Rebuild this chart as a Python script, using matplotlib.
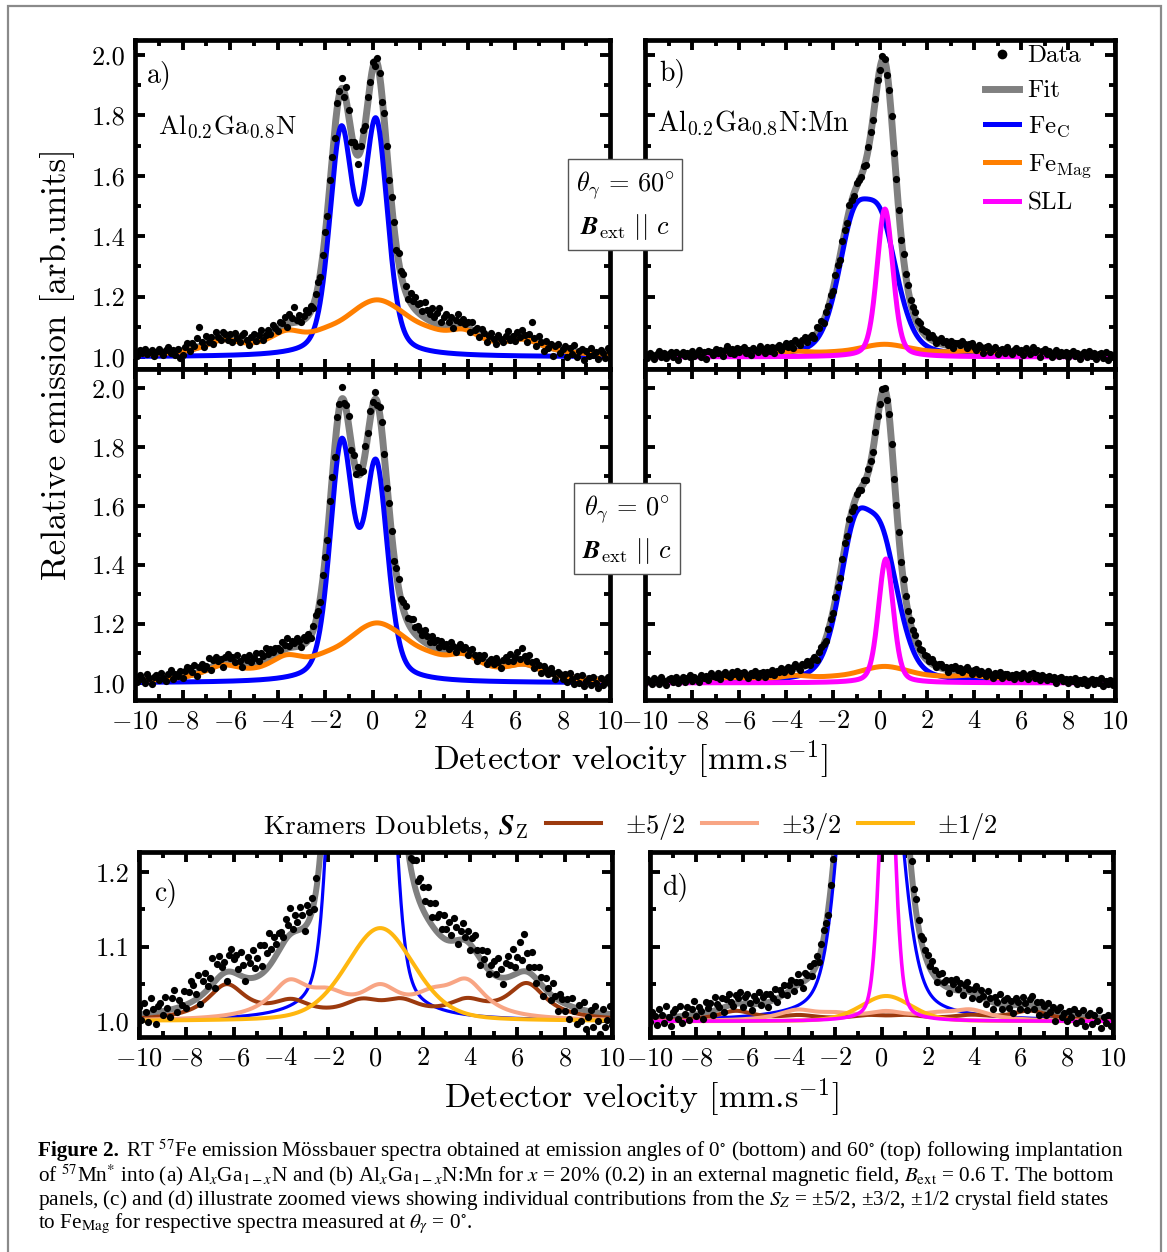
import numpy as np
import matplotlib
matplotlib.use('Agg')
import matplotlib.pyplot as plt
from matplotlib.ticker import MultipleLocator, FormatStrFormatter
from matplotlib.lines import Line2D
from matplotlib.patches import Rectangle

plt.rcParams['font.family'] = ['cmr10']
plt.rcParams['mathtext.fontset'] = 'cm'
plt.rcParams['axes.formatter.use_mathtext'] = True
plt.rcParams['axes.unicode_minus'] = True

W, H = 1167, 1252

# ---------------- data ----------------
V_MIN, V_MAX = -10.0, 10.0   # velocity range of the spectrometer channels

# component lines: (centre [mm/s], amplitude, FWHM [mm/s], Lorentzian fraction)
fec_a60 = [(-1.32, 0.726, 1.15, 0.34), (0.15, 0.754, 1.15, 0.34)]
fec_a0 = [(-1.30, 0.790, 1.15, 0.34), (0.15, 0.715, 1.15, 0.34)]
fec_b60 = [(-1.15, 0.377, 1.6, 0.34), (0.05, 0.393, 1.7, 0.34)]
fec_b0 = [(-1.10, 0.444, 1.6, 0.34), (0.10, 0.420, 1.7, 0.34)]
sll_b60 = [(0.21, 0.49, 0.80, 0.3)]
sll_b0 = [(0.25, 0.42, 0.75, 0.3)]
fit_sll_b60 = [(0.22, 0.49, 1.0, 0.3)]
fit_sll_b0 = [(0.25, 0.44, 0.9, 0.3)]
kd52_a0 = [(-6.3, 0.046, 2.0, 1.0), (-3.55, 0.021, 2.0, 1.0), (-0.6, 0.020, 2.0, 1.0),
           (1.1, 0.020, 2.0, 1.0), (3.85, 0.021, 2.0, 1.0), (6.4, 0.047, 2.0, 1.0)]
kd32_a0 = [(-3.65, 0.046, 2.0, 1.0), (-2.0, 0.024, 2.0, 1.0), (0.2, 0.036, 2.0, 1.0),
           (2.4, 0.022, 2.0, 1.0), (3.85, 0.046, 2.0, 1.0)]
kd12_a0 = [(0.2, 0.125, 3.4, 0.3)]
kd52_b0 = [(-6.3, 0.013, 2.0, 1.0), (-3.55, 0.006, 2.0, 1.0), (-0.6, 0.0056, 2.0, 1.0),
           (1.1, 0.0056, 2.0, 1.0), (3.85, 0.006, 2.0, 1.0), (6.4, 0.0132, 2.0, 1.0)]
kd32_b0 = [(-3.65, 0.013, 2.0, 1.0), (-2.0, 0.0067, 2.0, 1.0), (0.2, 0.010, 2.0, 1.0),
           (2.4, 0.0062, 2.0, 1.0), (3.85, 0.013, 2.0, 1.0)]
kd12_b0 = [(0.2, 0.034, 2.6, 0.3)]
femag_ratio_60_a = 0.93
femag_ratio_60_b = 0.75

# data scatter about the fit, in units of 0.001
res_a60 = [8, -5, 12, 3, 15, -2, 6, 10, -8, 4, 14, 2, -6, 9, 18, -3, 5, -12, 7, -25,
           -15, 10, 22, -5, 18, 6, 30, 65, 12, -8, 25, 4, 15, -10, 28, 8, -4, 20, 12, -6,
           14, -12, 22, 6, -8, 18, 25, 2, -15, 10, 20, -5, 12, 28, -10, 5, 15, -2, 22, 8,
           -6, 18, 10, 25, -12, 30, 15, 50, 8, 22, -5, 14, 28, 10, 18, -8, 12, 20, -10, 6,
           15, -10, 20, 5, -18, 25, 12, 35, -20, 48, 22, -35, 10, 25, -28, 15, 30, -12, 20, 8,
           25, -15, 18, 8, -20, 30, 12, -8, 22, 15, -12, 28, 10, 35, 20, -5, 30, 18, 42, 25,
           38, 15, 50, 30, 22, 45, 18, 35, 55, 10, 28, 40, 15, 32, -5, 20, 38, 12, 25, 8,
           18, -10, 25, 5, 15, -8, 20, 12, -15, 8, 22, 2, -12, 18, 6, -5, 15, 28, 0, 10,
           -8, 20, 5, 25, 12, -10, 18, 60, 8, -15, 22, 5, -20, 15, -5, 12, -25, 8, 18, -12,
           5, 15, -20, 10, -8, 22, -15, 4, 12, -25, 8, -10, 18, -5, 6, -18, 12, 2, -12, 20, 8]
res_a0 = [10, -8, 15, 2, -12, 20, 5, -15, 8, 12, -5, 18, 3, -10, 15, 25, -6, 10, 2, 20,
          -5, 15, 28, 22, 8, 30, -10, 18, 25, 5, 12, 35, -8, 20, 28, 10, 15, -12, 22, 30,
          18, 25, 8, 32, 15, -5, 28, 20, 38, 12, 25, 40, 10, 35, 22, 45, 18, 30, 15, 25,
          20, 8, 28, 15, 35, 5, 22, 12, 30, 18, -5, 25, 10, 20, -8, 15, 28, 5, -12, 20,
          10, -15, 25, 8, -20, 30, 15, 40, -10, 20, 35, -25, 12, -15, 28, 5, -18, 22, 10, 30,
          15, 25, -12, 20, 35, 8, -15, 22, 10, -20, 18, 30, 5, 25, 38, 15, 28, 40, 22, 35,
          30, 18, 42, 25, 12, 35, 20, 28, 10, 32, 15, 25, 8, 30, 18, -5, 12, 22, 5, 15,
          -8, 12, 20, 5, -10, 15, 8, 22, -5, 10, 18, 2, 25, 12, -8, 20, 28, 15, 35, 10,
          22, 40, 15, 50, 25, 8, 30, 12, -5, 20, 10, -12, 15, 5, -8, 18, 2, -15, 10, 5,
          -10, 8, -18, 12, -5, -22, 5, -15, 10, -25, -8, 2, -20, 8, -12, -28, 5, -18, -8, 10, -15]
res_b60 = [5, -8, 10, 2, -12, 6, 15, -4, 8, -10, 3, 12, -6, 9, -15, 4, 10, -3, 7, -8,
           12, -5, 2, 15, -10, 6, -18, 8, 3, -6, 14, -2, 9, -12, 5, 18, -4, 7, -9, 11,
           -3, 8, 14, -7, 4, -11, 10, 2, -5, 16, 6, -8, 12, -2, 9, -14, 5, 11, -6, 3,
           13, -4, 7, -10, 15, 2, -6, 10, 18, -3, 8, 12, -5, 20, 6, 15, -8, 10, 4, 12,
           -6, 15, 8, -12, 10, 5, -8, 14, 2, -10, 12, 6, -5, 10, -15, 8, 12, -4, 6, 10,
           -8, 12, 5, -10, 8, 15, -6, 10, 4, -12, 14, 8, 18, 6, 12, 20, 10, 15, 8, 12,
           15, 5, 18, 10, -4, 12, 20, 8, 14, 2, 16, -6, 10, 12, 4, 18, 8, -5, 10, 14,
           2, -8, 10, 5, -12, 8, 14, -4, 6, 12, -10, 4, 9, -6, 15, 3, -9, 7, 11, -3,
           6, -12, 10, 3, -7, 14, -2, 8, -15, 5, 11, -4, 9, -10, 4, 13, -6, 8, -3, 10,
           -8, 5, 12, -5, 8, -14, 3, 10, -6, 15, -2, 7, -11, 4, 9, -8, 12, -15, 6, -4, 2]
res_b0 = [-5, 8, 2, -10, 12, 4, -8, 15, 0, -12, 6, 10, -4, 14, -9, 3, 11, -6, 8, 18,
          -2, 10, 4, -8, 15, 6, 12, -5, 18, 8, 2, 14, -6, 10, 16, 4, -3, 12, 7, 15,
          -4, 9, 13, 2, -8, 11, 5, 16, -2, 8, 12, -6, 10, 4, 14, -5, 9, 2, 13, -3,
          8, 12, -4, 6, 15, 2, -8, 10, 5, 14, -3, 9, 12, -6, 7, 11, 3, -9, 6, 10,
          -5, 12, 4, -10, 8, 15, -6, 10, 3, -12, 9, 5, -8, 12, -4, 10, 6, -9, 8, 4,
          -6, 10, 5, -8, 12, 3, -10, 8, 14, -4, 9, 12, 6, 15, 8, 18, 10, 5, 14, 9,
          12, 4, 16, 8, -3, 11, 14, 5, 9, -6, 12, 7, 15, 2, 10, -5, 8, 13, 4, -8,
          6, 11, -4, 9, 3, -7, 12, 5, -9, 8, 2, 14, -5, 7, 10, -3, 6, -10, 9, 4,
          -6, 10, 2, -8, 7, 12, -4, 5, -11, 8, 3, -7, 10, -2, 6, -12, 4, 9, -5, 2,
          -8, 5, -3, 9, -10, 4, -6, 8, -12, 2, 6, -9, 3, -5, 10, -14, 1, -7, 4, -10, 2]

x_ticks_major, x_ticks_minor = 2, 1

# ---------------- model helpers ----------------
def profile(v, lines, scale=1.0):
    out = np.zeros_like(v)
    for c, a, w, eta in lines:
        sig = w / 2.3548
        gam = w / 2.0
        d = v - c
        out += a * ((1 - eta) * np.exp(-0.5 * (d / sig) ** 2) + eta / (1 + (d / gam) ** 2))
    return out * scale

vf = np.linspace(V_MIN, V_MAX, 2001)

femag_a0_lines = kd52_a0 + kd32_a0 + kd12_a0
femag_b0_lines = kd52_b0 + kd32_b0 + kd12_b0

def fit_a60(v):
    return 1 + profile(v, fec_a60) + profile(v, femag_a0_lines, femag_ratio_60_a)

def fit_a0(v):
    return 1 + profile(v, fec_a0) + profile(v, femag_a0_lines)

def fit_b60(v):
    return 1 + profile(v, fec_b60) + profile(v, femag_b0_lines, femag_ratio_60_b) + profile(v, fit_sll_b60)

def fit_b0(v):
    return 1 + profile(v, fec_b0) + profile(v, femag_b0_lines) + profile(v, fit_sll_b0)

def data_xy(res, fitfun):
    vel = np.linspace(V_MIN, V_MAX, len(res))
    return vel, fitfun(vel) + np.asarray(res) / 1000.0

# ---------------- style ----------------
C_FIT = '#808080'
C_FEC = '#0000ff'
C_MAG = '#ff7f00'
C_SLL = '#ff00ff'
C_52 = '#9c3a0e'
C_32 = '#f8a584'
C_12 = '#ffb70f'

fig = plt.figure(figsize=(W / 100, H / 100), dpi=100)
renderer = fig.canvas.get_renderer()

def fax(x0, y0, x1, y1):
    return fig.add_axes([x0 / W, 1 - y1 / H, (x1 - x0) / W, (y1 - y0) / H])

ax_a60 = fax(135, 40, 610, 369)
ax_a0 = fax(135, 369, 610, 700)
ax_b60 = fax(645, 40, 1115, 369)
ax_b0 = fax(645, 369, 1115, 700)
ax_c = fax(139, 852, 612, 1037)
ax_d = fax(650, 852, 1113, 1037)

for ax in [ax_a60, ax_a0, ax_b60, ax_b0, ax_c, ax_d]:
    for s in ax.spines.values():
        s.set_linewidth(3.4)
        s.set_zorder(10)
    ax.set_xlim(V_MIN, V_MAX)
    ax.xaxis.set_major_locator(MultipleLocator(x_ticks_major))
    ax.xaxis.set_minor_locator(MultipleLocator(x_ticks_minor))
    ax.tick_params(which='both', direction='in', top=True, right=True, width=2.8,
                   labelsize=19, pad=7)
    ax.tick_params(which='major', length=7.5)
    ax.tick_params(which='minor', length=4)

for ax in [ax_a60, ax_b60]:
    ax.set_ylim(0.96, 2.05)
for ax in [ax_a0, ax_b0]:
    ax.set_ylim(0.942, 2.064)
for ax in [ax_a60, ax_a0, ax_b60, ax_b0]:
    ax.yaxis.set_major_locator(MultipleLocator(0.2))
    ax.yaxis.set_minor_locator(MultipleLocator(0.1))
    ax.yaxis.set_major_formatter(FormatStrFormatter('%.1f'))
for ax in [ax_c, ax_d]:
    ax.set_ylim(0.979, 1.227)
    ax.yaxis.set_major_locator(MultipleLocator(0.1))
    ax.yaxis.set_minor_locator(MultipleLocator(0.05))
    ax.yaxis.set_major_formatter(FormatStrFormatter('%.1f'))

ax_a60.tick_params(labelbottom=False)
ax_b60.tick_params(labelbottom=False, labelleft=False)
ax_b0.tick_params(labelleft=False)
ax_d.tick_params(labelleft=False)

LW_FIT, LW_C = 5.0, 3.6
MS = 5.2

# panel a top (60 deg)
ax = ax_a60
ax.plot(vf, fit_a60(vf), color=C_FIT, lw=LW_FIT, zorder=2)
ax.plot(vf, 1 + profile(vf, fec_a60), color=C_FEC, lw=LW_C, zorder=3)
ax.plot(vf, 1 + profile(vf, femag_a0_lines, femag_ratio_60_a), color=C_MAG, lw=LW_C, zorder=3.1)
x, y = data_xy(res_a60, fit_a60)
ax.plot(x, y, 'o', color='black', ms=MS, mew=0, zorder=5)

# panel a bottom (0 deg)
ax = ax_a0
ax.plot(vf, fit_a0(vf), color=C_FIT, lw=LW_FIT, zorder=2)
ax.plot(vf, 1 + profile(vf, fec_a0), color=C_FEC, lw=LW_C, zorder=3)
ax.plot(vf, 1 + profile(vf, femag_a0_lines), color=C_MAG, lw=LW_C, zorder=3.1)
x, y = data_xy(res_a0, fit_a0)
ax.plot(x, y, 'o', color='black', ms=MS, mew=0, zorder=5)

# panel b top (60 deg)
ax = ax_b60
ax.plot(vf, fit_b60(vf), color=C_FIT, lw=LW_FIT, zorder=2)
ax.plot(vf, 1 + profile(vf, fec_b60), color=C_FEC, lw=LW_C, zorder=3)
ax.plot(vf, 1 + profile(vf, femag_b0_lines, femag_ratio_60_b), color=C_MAG, lw=LW_C, zorder=3.1)
ax.plot(vf, 1 + profile(vf, sll_b60), color=C_SLL, lw=LW_C, zorder=3.2)
x, y = data_xy(res_b60, fit_b60)
ax.plot(x, y, 'o', color='black', ms=MS, mew=0, zorder=5)
ax.legend([Line2D([], [], marker='o', ls='none', color='black', ms=7, mew=0),
           Line2D([], [], color=C_FIT, lw=LW_FIT),
           Line2D([], [], color=C_FEC, lw=LW_C),
           Line2D([], [], color=C_MAG, lw=LW_C),
           Line2D([], [], color=C_SLL, lw=LW_C)],
          ['Data', 'Fit', r'Fe$_{\mathrm{C}}$', r'Fe$_{\mathrm{Mag}}$', 'SLL'],
          loc='upper right', bbox_to_anchor=(0.955, 0.993), frameon=False, fontsize=18,
          handlelength=1.35, handletextpad=0.35, labelspacing=0.5, borderpad=0.1,
          borderaxespad=0)

# panel b bottom (0 deg)
ax = ax_b0
ax.plot(vf, fit_b0(vf), color=C_FIT, lw=LW_FIT, zorder=2)
ax.plot(vf, 1 + profile(vf, fec_b0), color=C_FEC, lw=LW_C, zorder=3)
ax.plot(vf, 1 + profile(vf, femag_b0_lines), color=C_MAG, lw=LW_C, zorder=3.1)
ax.plot(vf, 1 + profile(vf, sll_b0), color=C_SLL, lw=LW_C, zorder=3.2)
x, y = data_xy(res_b0, fit_b0)
ax.plot(x, y, 'o', color='black', ms=MS, mew=0, zorder=5)

# panel c (zoom of a, 0 deg)
ax = ax_c
ax.plot(vf, fit_a0(vf), color=C_FIT, lw=4.3, zorder=2)
ax.plot(vf, 1 + profile(vf, fec_a0), color=C_FEC, lw=2.3, zorder=3)
ax.plot(vf, 1 + profile(vf, kd52_a0), color=C_52, lw=2.9, zorder=3.3)
ax.plot(vf, 1 + profile(vf, kd32_a0), color=C_32, lw=2.9, zorder=3.4)
ax.plot(vf, 1 + profile(vf, kd12_a0), color=C_12, lw=2.9, zorder=3.5)
x, y = data_xy(res_a0, fit_a0)
ax.plot(x, y, 'o', color='black', ms=MS, mew=0, zorder=5)

# panel d (zoom of b, 0 deg)
ax = ax_d
ax.plot(vf, fit_b0(vf), color=C_FIT, lw=4.3, zorder=2)
ax.plot(vf, 1 + profile(vf, fec_b0), color=C_FEC, lw=2.3, zorder=3)
ax.plot(vf, 1 + profile(vf, kd52_b0), color=C_52, lw=2.9, zorder=3.3)
ax.plot(vf, 1 + profile(vf, kd32_b0), color=C_32, lw=2.9, zorder=3.4)
ax.plot(vf, 1 + profile(vf, kd12_b0), color=C_12, lw=2.9, zorder=3.5)
ax.plot(vf, 1 + profile(vf, sll_b0), color=C_SLL, lw=2.6, zorder=3.6)
x, y = data_xy(res_b0, fit_b0)
ax.plot(x, y, 'o', color='black', ms=MS, mew=0, zorder=5)

# ---------------- texts ----------------
def fx(px):
    return px / W

def fy(py):
    return 1 - py / H

def fit_len(t, target, vertical=False):
    bb = t.get_window_extent(renderer)
    cur = bb.height if vertical else bb.width
    t.set_fontsize(t.get_fontsize() * target / cur)

def text_with_fallback(x, y, s, s_fallback, **kw):
    t = fig.text(x, y, s, **kw)
    try:
        t.get_window_extent(renderer)
    except Exception:
        t.set_text(s_fallback)
    return t

fig.text(fx(147), fy(75), 'a)', fontsize=20, va='center')
fig.text(fx(659), fy(73), 'b)', fontsize=20, va='center')
fig.text(fx(154), fy(893), 'c)', fontsize=20, va='center')
fig.text(fx(662), fy(888), 'd)', fontsize=20, va='center')

t = fig.text(fx(158), fy(133), r'Al$_{0.2}$Ga$_{0.8}$N', fontsize=21, va='baseline')
fit_len(t, 139)
t = fig.text(fx(657), fy(131), r'Al$_{0.2}$Ga$_{0.8}$N:Mn', fontsize=21, va='baseline')
fit_len(t, 193)

box = dict(boxstyle='square,pad=0.3', fc='white', ec='#555555', lw=1.0)
b_it = '$\\mathbfit{B}_{\\mathrm{ext}}\\ ||\\ c$'
b_bf = '$\\mathbf{B}_{\\mathrm{ext}}\\ ||\\ c$'
text_with_fallback(fx(625), fy(206), '$\\theta_{\\gamma}\\,=\\,60^{\\circ}$\n' + b_it,
                   '$\\theta_{\\gamma}\\,=\\,60^{\\circ}$\n' + b_bf,
                   fontsize=19, ha='center', va='center', linespacing=1.5, bbox=box, zorder=20)
text_with_fallback(fx(627), fy(530), '$\\theta_{\\gamma}\\,=\\,0^{\\circ}$\n' + b_it,
                   '$\\theta_{\\gamma}\\,=\\,0^{\\circ}$\n' + b_bf,
                   fontsize=19, ha='center', va='center', linespacing=1.5, bbox=box, zorder=20)

t = fig.text(fx(58), fy(364), 'Relative emission [arb.units]', rotation=90,
             fontsize=22, ha='center', va='center')
fit_len(t, 432, vertical=True)
t = fig.text(fx(630), fy(760), r'Detector velocity [mm.s$^{\mathrm{-1}}$]',
             fontsize=22, ha='center', va='center')
fit_len(t, 395)
t = fig.text(fx(641), fy(1098), r'Detector velocity [mm.s$^{\mathrm{-1}}$]',
             fontsize=22, ha='center', va='center')
fit_len(t, 395)

t = text_with_fallback(fx(528), fy(827), r'Kramers Doublets, $\mathbfit{S}_{\mathrm{Z}}$',
                       r'Kramers Doublets, $\mathbf{S}_{\mathrm{Z}}$',
                       fontsize=19, ha='right', va='center')
fit_len(t, 265)
fig.legend([Line2D([], [], color=C_52, lw=2.9), Line2D([], [], color=C_32, lw=2.9),
            Line2D([], [], color=C_12, lw=2.9)],
           [r'$\pm5/2$', r'$\pm3/2$', r'$\pm1/2$'], ncol=3, loc='center left',
           bbox_to_anchor=(fx(546), fy(826)), frameon=False, fontsize=19,
           handlelength=2.1, handletextpad=0.9, columnspacing=0.6, borderpad=0,
           borderaxespad=0)

# caption
cap_kw = dict(family='Liberation Serif', math_fontfamily='stix', fontsize=14, va='center')
t_bold = fig.text(fx(38), fy(1151), 'Figure 2.', fontweight='bold', **cap_kw)
cap_lines = [
    (fx(126), fy(1151), r'RT $^{57}$Fe emission Mössbauer spectra obtained at emission angles of 0$^{\circ}$ (bottom) and 60$^{\circ}$ (top) following implantation'),
    (fx(38), fy(1176), r'of $^{57}$Mn$^{*}$ into (a) Al$_{x}$Ga$_{1-x}$N and (b) Al$_{x}$Ga$_{1-x}$N:Mn for $x$ = 20% (0.2) in an external magnetic field, $B_{\mathrm{ext}}$ = 0.6 T. The bottom'),
    (fx(38), fy(1200), r'panels, (c) and (d) illustrate zoomed views showing individual contributions from the $S_{Z}$ = ±5/2, ±3/2, ±1/2 crystal field states'),
    (fx(38), fy(1224), r'to Fe$_{\mathrm{Mag}}$ for respective spectra measured at $\theta_{\gamma}$ = 0$^{\circ}$.'),
]
cap_texts = [fig.text(xx, yy, s, **cap_kw) for xx, yy, s in cap_lines]
w1 = cap_texts[0].get_window_extent(renderer).width
scale = 999.0 / w1
for tt in cap_texts + [t_bold]:
    tt.set_fontsize(14 * scale)

fig.add_artist(Rectangle((fx(8), -0.02), fx(1161) - fx(8), fy(6) + 0.02,
                         transform=fig.transFigure, fill=False, ec='#8a8a8a', lw=1.6))

fig.savefig('out.png', dpi=100)
